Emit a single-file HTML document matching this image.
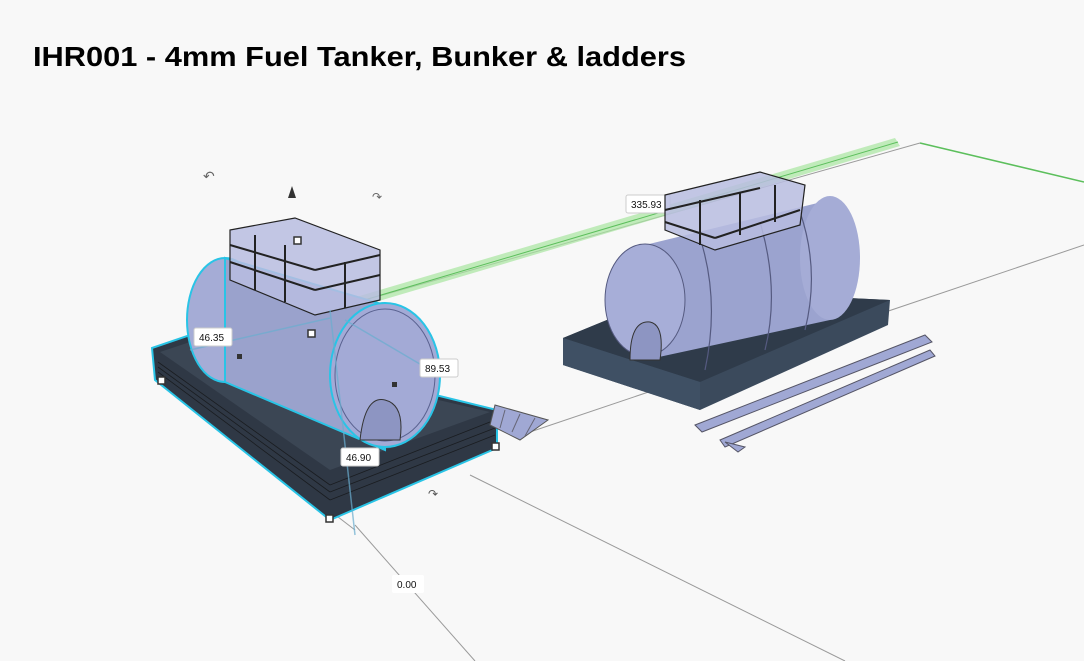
<!DOCTYPE html>
<html><head><meta charset="utf-8"><style>
html,body{margin:0;padding:0;background:#f8f8f8;}
svg{display:block}
</style></head><body>
<svg width="1084" height="661" viewBox="0 0 1084 661" xmlns="http://www.w3.org/2000/svg" font-family="Liberation Sans, sans-serif">
<rect width="1084" height="661" fill="#f8f8f8"/>
<text x="33" y="66" font-size="28" font-weight="bold" fill="#000" textLength="653" lengthAdjust="spacingAndGlyphs">IHR001 - 4mm Fuel Tanker, Bunker &amp; ladders</text>
<g stroke="#9a9a9a" stroke-width="1" fill="none">
<line x1="330" y1="310" x2="920" y2="143"/>
<line x1="355" y1="525" x2="475" y2="661"/>
<line x1="470" y1="475" x2="845" y2="661"/>
<line x1="530" y1="432" x2="1084" y2="245"/>
<line x1="160" y1="380" x2="355" y2="530"/>
</g>
<polygon points="285,318 895,138 900,146 295,326" fill="#a8e6a0" opacity="0.7"/>
<line x1="290" y1="322" x2="898" y2="142" stroke="#5cbf5c" stroke-width="1"/>
<line x1="920" y1="143" x2="1084" y2="182" stroke="#5cbf5c" stroke-width="1.5"/>

<!-- LEFT OBJECT -->
<polygon points="152,348 190,335 497,410 497,448 330,520 155,380" fill="#2f3845" stroke="#29c4e6" stroke-width="2"/>
<polygon points="160,352 190,342 490,412 330,470" fill="#3b4654"/>
<g stroke="#111" stroke-width="0.8" opacity="0.7">
<line x1="158" y1="362" x2="330" y2="485"/><line x1="158" y1="372" x2="330" y2="500"/>
<line x1="330" y1="485" x2="495" y2="420"/><line x1="330" y1="500" x2="495" y2="435"/>
<line x1="158" y1="367" x2="330" y2="492"/><line x1="330" y1="492" x2="495" y2="428"/>
</g>
<ellipse cx="225" cy="320" rx="38" ry="62" fill="#a5acd6" stroke="#29c4e6" stroke-width="2"/>
<path d="M225 258 L385 305 L385 450 L225 382 Z" fill="#9aa2cc" stroke="#29c4e6" stroke-width="2"/>
<ellipse cx="385" cy="375" rx="55" ry="72" fill="#a3aad6" stroke="#29c4e6" stroke-width="2"/>
<ellipse cx="385" cy="375" rx="50" ry="66" fill="none" stroke="#5a6290" stroke-width="1"/>
<path d="M360 440 Q365 395 385 400 Q405 405 400 440 Z" fill="#8d95c2" stroke="#333" stroke-width="1"/>
<g stroke="#222" stroke-width="1.2" fill="#b8bde0" fill-opacity="0.85">
<polygon points="230,230 295,218 380,250 380,300 315,315 230,280"/>
</g>
<g stroke="#222" stroke-width="2" fill="none">
<line x1="230" y1="245" x2="315" y2="270"/><line x1="230" y1="262" x2="315" y2="290"/>
<line x1="315" y1="270" x2="380" y2="255"/><line x1="315" y1="290" x2="380" y2="275"/>
<line x1="255" y1="235" x2="255" y2="290"/><line x1="285" y1="245" x2="285" y2="302"/>
<line x1="345" y1="262" x2="345" y2="308"/>
</g>
<g stroke="#555" fill="#a0a8d4"><polygon points="495,405 548,420 520,440 490,425"/></g>
<g stroke="#667" stroke-width="1"><line x1="505" y1="410" x2="500" y2="428"/><line x1="520" y1="414" x2="512" y2="432"/><line x1="535" y1="418" x2="525" y2="436"/></g>
<g fill="#fff" stroke="#333" stroke-width="1.5">
<rect x="158" y="377" width="7" height="7"/><rect x="326" y="515" width="7" height="7"/>
<rect x="492" y="443" width="7" height="7"/><rect x="308" y="330" width="7" height="7"/>
<rect x="294" y="237" width="7" height="7"/>
</g>
<g fill="#333"><rect x="237" y="354" width="5" height="5"/><rect x="392" y="382" width="5" height="5"/></g>
<polygon points="288,198 292,186 296,198" fill="#333"/>
<text x="203" y="181" font-size="14" fill="#666">↶</text>
<text x="372" y="201" font-size="12" fill="#666">↷</text>
<text x="428" y="498" font-size="12" fill="#555">↷</text>
<g stroke="#6aaed0" stroke-width="1.5" opacity="0.7"><line x1="330" y1="310" x2="355" y2="535"/><line x1="190" y1="350" x2="330" y2="318"/><line x1="345" y1="320" x2="430" y2="370"/></g>
<g font-size="10" fill="#111">
<rect x="194" y="328" width="38" height="18" rx="2" fill="#fff" stroke="#ccc"/><text x="199" y="341">46.35</text>
<rect x="420" y="359" width="38" height="18" rx="2" fill="#fff" stroke="#ccc"/><text x="425" y="372">89.53</text>
<rect x="341" y="448" width="38" height="18" rx="2" fill="#fff" stroke="#ccc"/><text x="346" y="461">46.90</text>
<rect x="392" y="575" width="32" height="18" rx="2" fill="#fff"/><text x="397" y="588">0.00</text>
<rect x="626" y="195" width="44" height="18" rx="2" fill="#fff" stroke="#ccc"/><text x="631" y="208">335.93</text>
</g>

<!-- RIGHT OBJECT -->
<polygon points="563,338 680,290 890,300 888,325 700,410 563,365" fill="#3b4a5c"/>
<polygon points="563,338 680,290 890,300 700,382" fill="#2f3b4a"/>
<polygon points="563,338 700,382 700,410 563,365" fill="#3f5064"/>
<path d="M645 245 L830 200 L830 320 L645 360 Z" fill="#9ba3cf"/>
<ellipse cx="830" cy="258" rx="30" ry="62" fill="#a5acd6"/>
<ellipse cx="645" cy="300" rx="40" ry="56" fill="#a7aed8" stroke="#555a80" stroke-width="1"/>
<path d="M630 360 Q630 320 650 322 Q665 325 660 360 Z" fill="#8d95c2" stroke="#333" stroke-width="1"/>
<g stroke="#555a80" fill="none" stroke-width="1.2">
<path d="M700 238 Q720 300 705 370"/><path d="M760 222 Q780 290 765 350"/><path d="M800 212 Q820 270 805 330"/>
</g>
<g stroke="#222" stroke-width="1.2" fill="#b8bde0" fill-opacity="0.85">
<polygon points="665,195 760,172 805,185 800,225 715,250 665,230"/>
</g>
<g stroke="#222" stroke-width="2" fill="none">
<line x1="665" y1="210" x2="760" y2="188"/><line x1="665" y1="222" x2="715" y2="238"/>
<line x1="715" y1="238" x2="800" y2="210"/><line x1="700" y1="200" x2="700" y2="245"/><line x1="740" y1="192" x2="740" y2="235"/><line x1="775" y1="185" x2="775" y2="222"/>
</g>
<g stroke="#556" stroke-width="1" fill="#a0a8d4">
<polygon points="695,425 925,335 932,342 702,432"/>
<polygon points="720,440 930,350 935,356 725,447"/>
<polygon points="725,442 738,452 745,447"/>
</g>
</svg>
</body></html>
